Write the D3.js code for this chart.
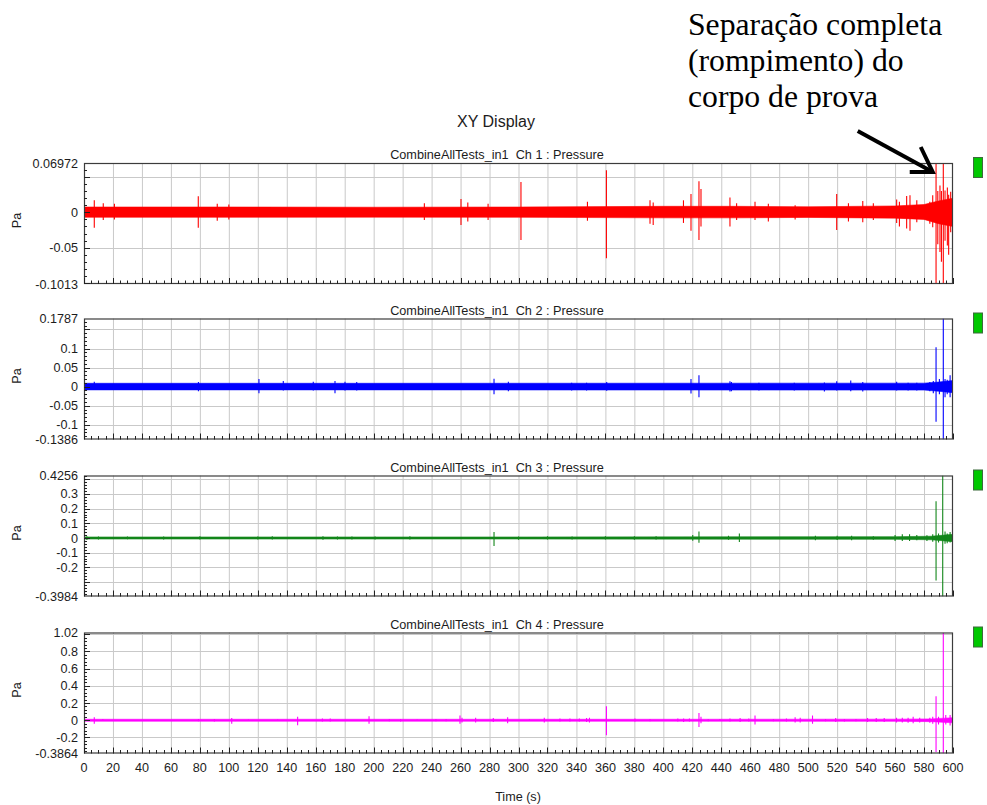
<!DOCTYPE html>
<html>
<head>
<meta charset="utf-8">
<script src="https://cdn.jsdelivr.net/npm/d3@7"></script>
<style>
  html, body { margin: 0; padding: 0; background: #fff; }
  svg { display: block; }
  text { font-family: "Liberation Sans", Arial, sans-serif; fill: #1c1c1c; }
  .pre { white-space: pre; }
</style>
</head>
<body>
<script>
// ---- Data ---------------------------------------------------------------
const timeTicks = [0, 20, 40, 60, 80, 100, 120, 140, 160, 180, 200, 220, 240, 260, 280,
  300, 320, 340, 360, 380, 400, 420, 440, 460, 480, 500, 520, 540, 560, 580, 600];

const channelTitles = [
  "CombineAllTests_in1  Ch 1 : Pressure",
  "CombineAllTests_in1  Ch 2 : Pressure",
  "CombineAllTests_in1  Ch 3 : Pressure",
  "CombineAllTests_in1  Ch 4 : Pressure"
];
const channelColors = ["#ff0000", "#0000ff", "#12861a", "#ff00ff"];

// y range of each channel (min, max), as shown on the axis end labels
const yDomains = [[-0.1013, 0.06972], [-0.1386, 0.1787], [-0.3984, 0.4256], [-0.3864, 1.02]];

// labelled y ticks
const yTickLabels = [
  [0.06972, 0, -0.05, -0.1013],
  [0.1787, 0.1, 0.05, 0, -0.05, -0.1, -0.1386],
  [0.4256, 0.3, 0.2, 0.1, 0, -0.1, -0.2, -0.3984],
  [1.02, 0.8, 0.6, 0.4, 0.2, 0, -0.2, -0.3864]
];
// horizontal grid lines
const yGridValues = [
  [0.05, 0, -0.05, -0.1],
  [0.15, 0.1, 0.05, 0, -0.05, -0.1],
  [0.4, 0.3, 0.2, 0.1, 0, -0.1, -0.2, -0.3],
  [1.0, 0.8, 0.6, 0.4, 0.2, 0, -0.2]
];
const yMinorSteps = [0.01, 0.01, 0.02, 0.04];

// background noise envelope: [time, upper, lower]
const band1 = [[0, 0.0075, -0.007], [100, 0.0075, -0.007], [200, 0.0072, -0.0068], [300, 0.0075, -0.007],
  [400, 0.0085, -0.0078], [450, 0.0085, -0.0078], [500, 0.0078, -0.0072], [560, 0.009, -0.0082],
  [580, 0.011, -0.01], [590, 0.016, -0.016], [600, 0.02, -0.02]];
const band2 = [[0, 0.0088, -0.0085], [200, 0.0088, -0.0085], [400, 0.009, -0.0088], [580, 0.0092, -0.009],
  [590, 0.012, -0.012], [600, 0.016, -0.016]];
const band3 = [[0, 0.007, -0.007], [300, 0.007, -0.007], [560, 0.009, -0.009], [585, 0.012, -0.012],
  [600, 0.025, -0.025]];
const band4 = [[0, 0.011, -0.011], [400, 0.011, -0.011], [560, 0.013, -0.013], [585, 0.016, -0.016],
  [600, 0.03, -0.03]];

// bursts above the noise floor: [time, max, min]
const spikes1 = [[7.1, 0.017, -0.0217], [13.3, 0.013, -0.011], [21, 0.012, -0.01], [78.9, 0.0227, -0.0217],
  [92, 0.012, -0.012], [100, 0.011, -0.01], [235, 0.013, -0.011], [260.3, 0.019, -0.018], [265, 0.014, -0.013],
  [279, 0.012, -0.011], [301.7, 0.043, -0.039], [347.6, 0.015, -0.012], [360.7, 0.0596, -0.065],
  [390.8, 0.017, -0.016], [393, 0.014, -0.018], [413.9, 0.017, -0.015], [419.1, 0.026, -0.026],
  [424.6, 0.044, -0.039], [426, 0.033, -0.02], [446, 0.021, -0.02], [450.6, 0.013, -0.011],
  [463.3, 0.015, -0.011], [472.5, 0.012, -0.013], [491, 0.01, -0.01], [519.7, 0.026, -0.025],
  [527.8, 0.013, -0.013], [537.7, 0.016, -0.014], [545, 0.013, -0.011], [561.1, 0.018, -0.015],
  [563, 0.015, -0.02], [568, 0.023, -0.023], [570.3, 0.024, -0.026], [575, 0.017, -0.014],
  [584, 0.015, -0.016], [586, 0.024, -0.021], [588.3, 0.06972, -0.1013], [589.5, 0.03, -0.045],
  [591, 0.038, -0.056], [592, 0.03, -0.07], [593.3, 0.06972, -0.1013], [594.5, 0.031, -0.04],
  [596.1, 0.035, -0.047], [597, 0.025, -0.06], [598.4, 0.029, -0.028], [599.8, 0.031, -0.04]];
const spikes2 = [[7.1, 0.013, -0.008], [79, 0.012, -0.012], [120.8, 0.02, -0.017], [137.6, 0.015, -0.01],
  [158.3, 0.013, -0.01], [173.3, 0.015, -0.017], [180.2, 0.013, -0.01], [188.3, 0.012, -0.01],
  [283.1, 0.021, -0.02], [293, 0.013, -0.012], [336.7, 0.01, -0.01], [347, 0.01, -0.01],
  [360.9, 0.012, -0.011], [419.1, 0.02, -0.018], [424.6, 0.03, -0.028], [446, 0.014, -0.013],
  [447, 0.012, -0.012], [466, 0.01, -0.01], [490.4, 0.01, -0.01], [511.2, 0.011, -0.013],
  [519.7, 0.014, -0.01], [529.4, 0.016, -0.012], [537.7, 0.012, -0.013], [561.1, 0.013, -0.01],
  [569, 0.01, -0.01], [575, 0.01, -0.01], [584, 0.012, -0.012], [586.4, 0.015, -0.017],
  [588.3, 0.103, -0.092], [590.6, 0.02, -0.02], [593.3, 0.1787, -0.1386], [594.5, 0.02, -0.028],
  [596, 0.018, -0.02], [598, 0.03, -0.028], [599.8, 0.025, -0.025]];
const spikes3 = [[2, 0.012, -0.014], [10, 0.01, -0.01], [30, 0.01, -0.008], [55, 0.01, -0.01],
  [80, 0.012, -0.01], [120, 0.01, -0.01], [130, 0.012, -0.01], [165, 0.012, -0.012], [175, 0.01, -0.01],
  [185, 0.01, -0.01], [201, 0.01, -0.01], [225, 0.012, -0.01], [283.1, 0.04, -0.055], [300, 0.01, -0.012],
  [320, 0.012, -0.01], [337, 0.01, -0.01], [360, 0.012, -0.01], [380, 0.012, -0.012], [395, 0.012, -0.01],
  [420.3, 0.02, -0.018], [424.6, 0.045, -0.033], [445, 0.015, -0.012], [452.5, 0.03, -0.028],
  [505, 0.015, -0.015], [520, 0.015, -0.013], [530, 0.015, -0.015], [545, 0.012, -0.012],
  [560, 0.02, -0.02], [565, 0.025, -0.02], [570, 0.025, -0.02], [575, 0.02, -0.015], [582, 0.018, -0.02],
  [586, 0.025, -0.025], [588.3, 0.25, -0.29], [590, 0.03, -0.03], [592.9, 0.4256, -0.3984],
  [594.5, 0.045, -0.04], [596, 0.03, -0.035], [598, 0.04, -0.03], [599.7, 0.04, -0.035]];
const spikes4 = [[7.1, 0.035, -0.04], [13, 0.015, -0.01], [79, 0.015, -0.012], [90, 0.015, -0.015],
  [102, 0.025, -0.04], [113.5, 0.01, -0.01], [133.7, 0.01, -0.01], [147.5, 0.04, -0.058],
  [164.6, 0.02, -0.015], [170, 0.02, -0.015], [196.8, 0.046, -0.042], [210.8, 0.015, -0.012],
  [218.6, 0.015, -0.015], [230, 0.01, -0.01], [243, 0.015, -0.012], [250, 0.015, -0.012],
  [259.6, 0.054, -0.042], [261, 0.03, -0.025], [270.4, 0.03, -0.025], [282.6, 0.025, -0.02],
  [292.5, 0.035, -0.035], [307.5, 0.012, -0.01], [317.8, 0.03, -0.025], [328.6, 0.02, -0.015],
  [335.5, 0.02, -0.015], [342, 0.02, -0.015], [347, 0.025, -0.02], [349, 0.03, -0.025],
  [360.7, 0.163, -0.173], [380.4, 0.02, -0.015], [390.8, 0.015, -0.012], [410, 0.02, -0.015],
  [414, 0.02, -0.02], [418, 0.02, -0.015], [424.6, 0.085, -0.077], [426, 0.04, -0.035],
  [431, 0.015, -0.012], [439, 0.015, -0.01], [446, 0.02, -0.015], [453, 0.025, -0.02], [459, 0.02, -0.015],
  [463.3, 0.055, -0.05], [476, 0.015, -0.012], [485, 0.02, -0.015], [491, 0.035, -0.025],
  [494.5, 0.03, -0.025], [503, 0.055, -0.04], [512, 0.015, -0.012], [519, 0.025, -0.02],
  [525, 0.015, -0.015], [533, 0.015, -0.012], [541, 0.025, -0.02], [547, 0.025, -0.02],
  [552.5, 0.025, -0.02], [561, 0.03, -0.025], [565, 0.03, -0.025], [569, 0.03, -0.03],
  [572.5, 0.04, -0.035], [577, 0.03, -0.025], [584, 0.03, -0.03], [586, 0.04, -0.04],
  [588.3, 0.28, -0.37], [590, 0.04, -0.05], [593.3, 1.02, -0.3864], [595, 0.06, -0.05],
  [598, 0.06, -0.06], [599.8, 0.05, -0.045]];

const bands = [band1, band2, band3, band4];
const spikes = [spikes1, spikes2, spikes3, spikes4];

const annotationLines = ["Separação completa", "(rompimento) do", "corpo de prova"];
const breakTime = 586;

// ---- Layout -------------------------------------------------------------
const W = 987, H = 805;
const plotLeft = 84, plotRight = 953;
const panelTops = [163, 318.5, 475.5, 632.5];
const panelH = 121;
const titleCenterX = 497;
const labelSize = "12.6px";

const svg = d3.select("body").append("svg").attr("width", W).attr("height", H);

const x = d3.scaleLinear().domain([0, 600]).range([plotLeft, plotRight]);
const fmt = v => (v === 0 ? "0" : String(v));

svg.append("text").attr("x", 496).attr("y", 126.5).attr("text-anchor", "middle")
  .style("font-size", "16px").text("XY Display");

panelTops.forEach((top, i) => {
  const bottom = top + panelH;
  const y = d3.scaleLinear().domain(yDomains[i]).range([bottom, top]);
  const g = svg.append("g");

  g.append("rect").attr("x", plotLeft).attr("y", top)
    .attr("width", plotRight - plotLeft).attr("height", panelH).attr("fill", "#fff");

  // grid
  g.append("g").selectAll("line").data(timeTicks.slice(1, -1)).join("line")
    .attr("x1", d => x(d) + 0.5).attr("x2", d => x(d) + 0.5)
    .attr("y1", top).attr("y2", bottom)
    .attr("stroke", "#c9c9c9").attr("stroke-width", 1);
  g.append("g").selectAll("line").data(yGridValues[i]).join("line")
    .attr("x1", plotLeft).attr("x2", plotRight)
    .attr("y1", d => Math.round(y(d)) + 0.5).attr("y2", d => Math.round(y(d)) + 0.5)
    .attr("stroke", "#c9c9c9").attr("stroke-width", 1);

  // trace
  const clipId = "clip" + i;
  svg.append("clipPath").attr("id", clipId).append("rect")
    .attr("x", plotLeft).attr("y", top).attr("width", plotRight - plotLeft).attr("height", panelH);
  const trace = g.append("g").attr("clip-path", `url(#${clipId})`);
  const area = d3.area()
    .x(d => x(d[0]))
    .y0(d => Math.max(y(d[2]), y(0) + 1))
    .y1(d => Math.min(y(d[1]), y(0) - 1));
  trace.append("path").datum(bands[i]).attr("d", area)
    .attr("fill", channelColors[i]).attr("stroke", channelColors[i]).attr("stroke-width", 0.6);
  trace.append("g").selectAll("line").data(spikes[i]).join("line")
    .attr("x1", d => x(d[0])).attr("x2", d => x(d[0]))
    .attr("y1", d => y(d[1])).attr("y2", d => y(d[2]))
    .attr("stroke", channelColors[i]).attr("stroke-width", 1.1);

  // frame
  g.append("rect").attr("x", plotLeft + 0.5).attr("y", top + 0.5)
    .attr("width", plotRight - plotLeft - 1).attr("height", panelH - 1)
    .attr("fill", "none").attr("stroke", "#3c3c3c").attr("stroke-width", 1.2);

  // x ticks (inside, pointing up), every 5 s; longer every 20 s
  const xMinor = d3.range(0, 600.1, 5);
  g.append("g").selectAll("line").data(xMinor).join("line")
    .attr("x1", d => Math.round(x(d)) + 0.5).attr("x2", d => Math.round(x(d)) + 0.5)
    .attr("y1", bottom).attr("y2", d => bottom - (d % 20 === 0 ? 6 : 3.5))
    .attr("stroke", "#222").attr("stroke-width", 1);

  // y ticks (inside, pointing right)
  const [y0, y1] = yDomains[i];
  const step = yMinorSteps[i];
  const minor = d3.range(Math.ceil(y0 / step) * step, y1 + 1e-9, step);
  g.append("g").selectAll("line").data(minor).join("line")
    .attr("x1", plotLeft).attr("x2", plotLeft + 3)
    .attr("y1", d => Math.round(y(d)) + 0.5).attr("y2", d => Math.round(y(d)) + 0.5)
    .attr("stroke", "#222").attr("stroke-width", 1);
  g.append("g").selectAll("line").data(yGridValues[i]).join("line")
    .attr("x1", plotLeft).attr("x2", plotLeft + 6)
    .attr("y1", d => Math.round(y(d)) + 0.5).attr("y2", d => Math.round(y(d)) + 0.5)
    .attr("stroke", "#222").attr("stroke-width", 1);

  // y tick labels
  g.append("g").selectAll("text").data(yTickLabels[i]).join("text")
    .attr("x", 78).attr("y", d => y(d)).attr("dy", "0.36em")
    .attr("text-anchor", "end").style("font-size", labelSize).text(fmt);

  // unit label
  g.append("text").attr("transform", `translate(21,${top + panelH / 2 - 3}) rotate(-90)`)
    .attr("text-anchor", "middle").style("font-size", labelSize).text("Pa");

  // panel title
  g.append("text").attr("class", "pre").attr("x", titleCenterX).attr("y", top - 4)
    .attr("text-anchor", "middle").style("font-size", "12.7px").text(channelTitles[i]);

  // status indicator
  g.append("rect").attr("x", 973.5).attr("y", top - 5.5).attr("width", 9).attr("height", 20)
    .attr("fill", "#00c800").attr("stroke", "#3d6b3d").attr("stroke-width", 1);

  if (i === panelTops.length - 1) {
    g.append("g").selectAll("text").data(timeTicks).join("text")
      .attr("x", d => x(d)).attr("y", bottom + 18)
      .attr("text-anchor", "middle").style("font-size", labelSize).text(d => d);
    g.append("text").attr("x", 518).attr("y", bottom + 47)
      .attr("text-anchor", "middle").style("font-size", labelSize).text("Time (s)");
  }

  if (i === 0) {
    // annotation pointing to the final break
    const tipX = x(breakTime), tipY = top + 9;
    const ann = svg.append("g");
    ann.append("g").selectAll("text").data(annotationLines).join("text")
      .attr("x", 688).attr("y", (d, k) => 35 + k * 36)
      .style("font-family", "'Liberation Serif', 'Times New Roman', serif")
      .style("font-size", "31.7px").style("fill", "#000").text(d => d);
    ann.append("path")
      .attr("d", `M${tipX - 75},${tipY - 41} L${tipX},${tipY}`)
      .attr("stroke", "#000").attr("stroke-width", 4).attr("fill", "none");
    ann.append("path")
      .attr("d", `M${tipX - 23},${tipY} L${tipX},${tipY} L${tipX - 12},${tipY - 25}`)
      .attr("stroke", "#000").attr("stroke-width", 4).attr("fill", "none")
      .attr("stroke-linejoin", "miter").attr("stroke-linecap", "butt");
  }
});
</script>
</body>
</html>
